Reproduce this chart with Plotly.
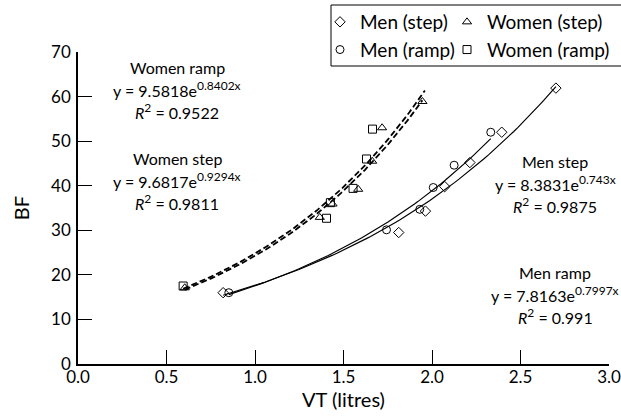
import numpy as np
import plotly.graph_objects as go

# ---- data ----
men_step_x = [0.82, 1.812, 1.963, 2.072, 2.214, 2.394, 2.70]
men_step_y = [16.0, 29.5, 34.3, 39.8, 45.2, 52.0, 61.9]

men_ramp_x = [0.852, 1.743, 1.931, 2.007, 2.125, 2.332]
men_ramp_y = [16.0, 30.1, 34.7, 39.6, 44.6, 52.0]

women_step_x = [0.603, 1.366, 1.438, 1.583, 1.662, 1.718, 1.946]
women_step_y = [17.1, 32.9, 35.9, 39.2, 45.5, 53.0, 58.9]

women_ramp_x = [0.594, 1.404, 1.426, 1.554, 1.630, 1.664]
women_ramp_y = [17.5, 32.7, 36.2, 39.4, 46.0, 52.7]

# x-extent of each exponential trend line
trend_start = {"ms": 0.82, "mr": 0.852, "ws": 0.603, "wr": 0.594}
trend_end = {"ms": 2.70, "mr": 2.332, "ws": 1.946, "wr": 1.96}

x_ticks = [0.0, 0.5, 1.0, 1.5, 2.0, 2.5, 3.0]
x_tick_labels = ["0.0", "0.5", "1.0", "1.5", "2.0", "2.5", "3.0"]
y_ticks = [0, 10, 20, 30, 40, 50, 60, 70]

SUP = '<sup><span style="font-size:12px">%s</span></sup>'
labels = {
    "wr": ["Women ramp", "y = 9.5818e" + SUP % "0.8402x", "<i>R</i>" + SUP % "2" + " = 0.9522"],
    "ws": ["Women step", "y = 9.6817e" + SUP % "0.9294x", "<i>R</i>" + SUP % "2" + " = 0.9811"],
    "ms": ["Men step", "y = 8.3831e" + SUP % "0.743x", "<i>R</i>" + SUP % "2" + " = 0.9875"],
    "mr": ["Men ramp", "y = 7.8163e" + SUP % "0.7997x", "<i>R</i>" + SUP % "2" + " = 0.991"],
}

FONT = "Lato"
W, H = 621, 419
ML, MR, MT, MB = 78, 12, 52, 55
pw, ph = W - ML - MR, H - MT - MB


def px_x(p):
    return (p - ML) / pw


def px_y(p):
    return 1 - (p - MT) / ph


def exp_fit(x, y, x0, x1):
    b, ln_a = np.polyfit(np.asarray(x), np.log(np.asarray(y)), 1)
    xs = np.linspace(x0, x1, 80)
    return xs, np.exp(ln_a) * np.exp(b * xs)


fig = go.Figure()

# trend lines
for key, xs_, ys_, dash, w in [
    ("ms", men_step_x, men_step_y, "solid", 1.2),
    ("mr", men_ramp_x, men_ramp_y, "solid", 1.2),
    ("ws", women_step_x, women_step_y, "6px,3px", 1.8),
    ("wr", women_ramp_x, women_ramp_y, "6px,3px", 1.8),
]:
    cx, cy = exp_fit(xs_, ys_, trend_start[key], trend_end[key])
    fig.add_trace(go.Scatter(x=cx, y=cy, mode="lines", showlegend=False,
                             hoverinfo="skip",
                             line=dict(color="black", width=w, dash=dash)))

series = [
    ("Men (step)", men_step_x, men_step_y, "diamond-open", "legend"),
    ("Men (ramp)", men_ramp_x, men_ramp_y, "circle-open", "legend"),
    ("Women (step)", women_step_x, women_step_y, "triangle-up-open", "legend2"),
    ("Women (ramp)", women_ramp_x, women_ramp_y, "square-open", "legend2"),
]
for name, xs_, ys_, sym, lg in series:
    fig.add_trace(go.Scatter(
        x=xs_, y=ys_, mode="markers", name=name, legend=lg,
        marker=dict(symbol=sym, size=8, color="black",
                    line=dict(color="black", width=1)),
    ))

# annotations (equation blocks), positioned in paper pixels
blocks = [("wr", 177, 67), ("ws", 177, 158), ("ms", 555, 161), ("mr", 555, 272)]
for key, cxp, cyp in blocks:
    for i, txt in enumerate(labels[key]):
        ypix = cyp + i * 22
        fig.add_annotation(
            text=txt, showarrow=False,
            xref="paper", yref="paper",
            x=px_x(cxp), y=px_y(ypix),
            xanchor="center", yanchor="middle",
            font=dict(size=16, color="black", family=FONT),
        )

# legend frame
fig.add_shape(type="rect", xref="paper", yref="paper",
              x0=px_x(331), x1=px_x(630), y0=px_y(66), y1=px_y(5),
              line=dict(color="black", width=1), fillcolor="white",
              layer="above")

leg_common = dict(bgcolor="rgba(0,0,0,0)", borderwidth=0,
                  font=dict(size=19, family=FONT, color="black"),
                  itemwidth=30, tracegroupgap=0, orientation="v",
                  yanchor="top", xanchor="left", y=px_y(3))

fig.update_layout(
    width=W, height=H,
    margin=dict(l=ML, r=MR, t=MT, b=MB, autoexpand=False),
    paper_bgcolor="white", plot_bgcolor="white",
    font=dict(family=FONT, size=17, color="black"),
    legend=dict(x=px_x(320), **leg_common),
    legend2=dict(x=px_x(447), **leg_common),
    xaxis=dict(
        range=[0, 3], tickvals=x_ticks, ticktext=x_tick_labels,
        ticks="inside", ticklen=14, tickwidth=1, tickcolor="black",
        showline=True, linecolor="black", linewidth=1.5,
        showgrid=False, zeroline=False, mirror=False,
        ticklabelstandoff=-3, ticklabeloverflow="allow",
        title=dict(text="VT (litres)", standoff=7),
    ),
    yaxis=dict(
        range=[0, 70], tickvals=y_ticks,
        ticks="inside", ticklen=14, tickwidth=1, tickcolor="black",
        showline=True, linecolor="black", linewidth=1.5,
        showgrid=False, zeroline=False,
        ticklabelstandoff=2,
        title=dict(text="BF", standoff=16),
    ),
)

fig.write_html("out.html",
               config={"displayModeBar": False},
               post_script="document.body.style.margin='0';")
